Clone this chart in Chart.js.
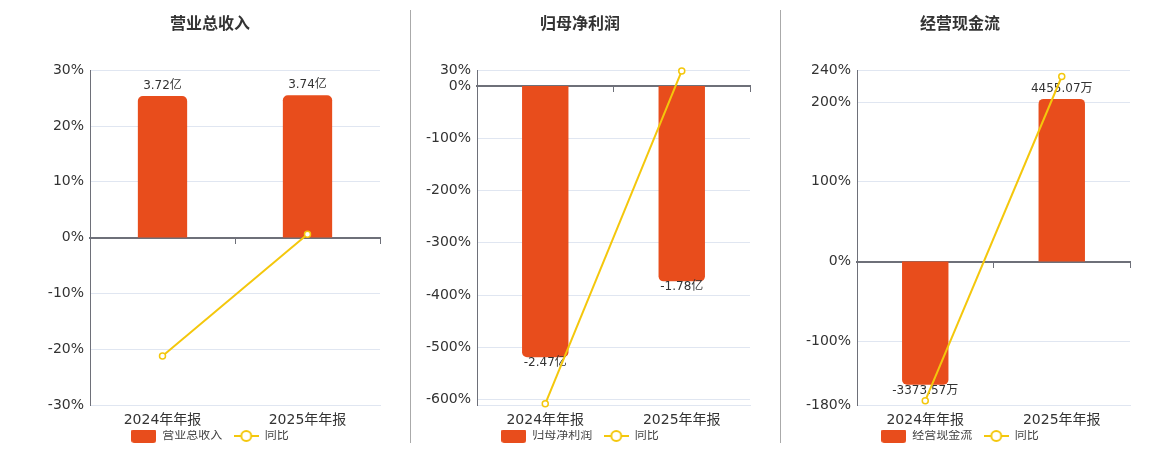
<!DOCTYPE html>
<html>
<head>
<meta charset="utf-8">
<script src="https://cdn.jsdelivr.net/npm/chart.js@4.4.1/dist/chart.umd.min.js"></script>
<style>
  html, body { margin: 0; padding: 0; background: #fff; overflow: hidden; width: 1160px; height: 450px; }
  .panel { position: absolute; top: 0; height: 452px; }
  .sep { position: absolute; top: 10px; height: 433px; width: 1px; background: #aaa; }
</style>
</head>
<body>
<div class="panel" style="left:20px;width:380px"><canvas id="c1"></canvas></div>
<div class="panel" style="left:400px;width:360px"><canvas id="c2"></canvas></div>
<div class="panel" style="left:780px;width:360px"><canvas id="c3"></canvas></div>
<div class="sep" style="left:410px"></div>
<div class="sep" style="left:780px"></div>
<script>
const categories = ['2024年年报', '2025年年报'];

const revenue = [3.72, 3.74];
const revenueText = ['3.72亿', '3.74亿'];
const revenueYoy = [-21.2, 0.6];
const revenueTicks = [30, 20, 10, 0, -10, -20, -30];

const profit = [-2.47, -1.78];
const profitText = ['-2.47亿', '-1.78亿'];
const profitYoy = [-607.8, 28.7];
const profitTicks = [30, 0, -100, -200, -300, -400, -500, -600];

const cashflow = [-3373.57, 4455.07];
const cashflowText = ['-3373.57万', '4455.07万'];
const cashflowYoy = [-174.6, 232.1];
const cashflowTicks = [240, 200, 100, 0, -100, -180];

const BAR = '#E84D1C';
const LINE = '#F4C70C';
const FONT = '"DejaVu Sans", "Noto Sans CJK SC", sans-serif';

Chart.defaults.font.family = FONT;

// legend icons
function barIcon() {
  const c = document.createElement('canvas');
  c.width = 25; c.height = 14;
  const g = c.getContext('2d');
  g.fillStyle = BAR;
  g.beginPath();
  g.roundRect(0, 0, 25, 14, 3);
  g.fill();
  return c;
}
function lineIcon() {
  const c = document.createElement('canvas');
  c.width = 25; c.height = 14;
  const g = c.getContext('2d');
  g.strokeStyle = LINE;
  g.lineWidth = 2;
  g.beginPath(); g.moveTo(0, 7); g.lineTo(25, 7); g.stroke();
  g.fillStyle = '#fff';
  g.beginPath(); g.arc(12.5, 7, 5, 0, Math.PI * 2); g.fill(); g.stroke();
  return c;
}
const icons = [barIcon(), lineIcon()];

const barLabels = {
  id: 'barLabels',
  afterDatasetDraw(chart, args, opts) {
    if (args.index !== 0) return;
    const ctx = chart.ctx;
    ctx.save();
    ctx.font = '12px ' + FONT;
    ctx.fillStyle = '#333';
    ctx.textAlign = 'center';
    ctx.textBaseline = 'middle';
    args.meta.data.forEach((el, i) => {
      const neg = el.y > el.base;
      ctx.fillText(opts.texts[i], el.x, neg ? el.y + 6 : el.y - 10);
    });
    ctx.restore();
  }
};

function makeChart(id, title, bars, texts, yoy, ticks, min, max, yWidth, rightWidth) {
  // bar axis aligned with the percent axis at zero; tallest bar fills 85% of its side
  let peak = 0, side = max;
  bars.forEach(v => {
    if (Math.abs(v) > peak) { peak = Math.abs(v); side = v >= 0 ? max : -min; }
  });
  const k = peak / (0.85 * side);

  return new Chart(document.getElementById(id), {
    type: 'bar',
    data: {
      labels: categories,
      datasets: [
        {
          type: 'bar',
          label: title,
          data: bars,
          yAxisID: 'yb',
          backgroundColor: BAR,
          borderRadius: 5,
          borderSkipped: 'start',
          barPercentage: 0.34,
          categoryPercentage: 1,
          order: 2
        },
        {
          type: 'line',
          label: '同比',
          data: yoy,
          yAxisID: 'y',
          borderColor: LINE,
          borderWidth: 2,
          pointRadius: 3,
          pointBorderWidth: 1.5,
          pointBackgroundColor: '#fff',
          pointBorderColor: LINE,
          tension: 0,
          clip: false,
          order: 1
        }
      ]
    },
    options: {
      responsive: true,
      maintainAspectRatio: false,
      animation: false,
      layout: { padding: 0 },
      scales: {
        x: {
          grid: { display: false, drawTicks: false },
          border: { color: '#E0E6F1' },
          ticks: { color: '#333', font: { size: 14 }, padding: 7 },
          afterFit(s) { s.height = 25; }
        },
        x2: {
          type: 'category',
          position: { y: 0 },
          offset: true,
          grid: { offset: true, drawOnChartArea: false, tickLength: 5, color: '#6E7079' },
          border: { color: '#6E7079', width: 2 },
          ticks: { display: false }
        },
        y: {
          position: 'left',
          min: min,
          max: max,
          afterBuildTicks(s) { s.ticks = ticks.map(v => ({ value: v })); },
          grid: { color: '#E0E6F1', drawTicks: false },
          border: { color: '#6E7079', width: 1 },
          ticks: { color: '#333', font: { size: 14 }, padding: 6, callback: v => v + '%' },
          afterFit(s) { s.width = yWidth; }
        },
        yb: {
          position: 'right',
          min: min * k,
          max: max * k,
          grid: { display: false },
          border: { display: false },
          ticks: { display: false },
          afterFit(s) { s.width = rightWidth; }
        }
      },
      plugins: {
        title: {
          display: true,
          text: title,
          color: '#333',
          font: { size: 16, weight: 'bold' },
          padding: { top: 15, bottom: 36 }
        },
        legend: {
          position: 'bottom',
          labels: {
            usePointStyle: true,
            pointStyleWidth: 25,
            padding: 0,
            color: '#444',
            font: { size: 12 },
            // trailing spaces keep the gap between the two legend items
            generateLabels: chart => chart.data.datasets.map((ds, i) => ({
              text: i === 0 ? ds.label + '   ' : ds.label,
              pointStyle: icons[i],
              fillStyle: 'transparent',
              strokeStyle: 'transparent',
              lineWidth: 0,
              fontColor: '#444',
              hidden: false,
              datasetIndex: i
            }))
          }
        },
        tooltip: { enabled: false },
        barLabels: { texts: texts }
      }
    },
    plugins: [barLabels]
  });
}

makeChart('c1', '营业总收入', revenue, revenueText, revenueYoy, revenueTicks, -30, 30, 70, 20);
makeChart('c2', '归母净利润', profit, profitText, profitYoy, profitTicks, -610, 30, 77, 10);
makeChart('c3', '经营现金流', cashflow, cashflowText, cashflowYoy, cashflowTicks, -180, 240, 77, 10);
</script>
</body>
</html>
